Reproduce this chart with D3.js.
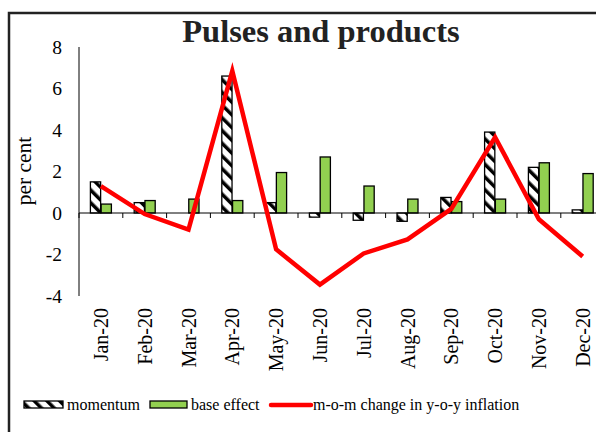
<!DOCTYPE html>
<html>
<head>
<meta charset="utf-8">
<script src="https://cdn.jsdelivr.net/npm/d3@7"></script>
<style>
  body { margin: 0; background: #fff; }
  svg { display: block; font-family: "Liberation Serif", "Times New Roman", serif; }
</style>
</head>
<body>
<script>
// values
var months = ["Jan-20", "Feb-20", "Mar-20", "Apr-20", "May-20", "Jun-20",
              "Jul-20", "Aug-20", "Sep-20", "Oct-20", "Nov-20", "Dec-20"];
var momentum   = [1.5, 0.5, 0.0, 6.6, 0.5, -0.2, -0.35, -0.4, 0.75, 3.9, 2.2, 0.15];
var baseEffect = [0.43, 0.6, 0.67, 0.6, 1.95, 2.7, 1.3, 0.67, 0.55, 0.67, 2.42, 1.9];
var momChange  = [1.3, -0.05, -0.8, 6.85, -1.75, -3.45, -1.95, -1.27, 0.2, 3.65, -0.3, -2.1];
var yTicks = [-4, -2, 0, 2, 4, 6, 8];

var W = 596, H = 432;
var svg = d3.select("body").append("svg")
    .attr("width", W)
    .attr("height", H);

// downward diagonal hatch for momentum
var defs = svg.append("defs");
var pat = defs.append("pattern")
    .attr("id", "hatch")
    .attr("patternUnits", "userSpaceOnUse")
    .attr("width", 9)
    .attr("height", 9)
    .attr("patternTransform", "rotate(-45)");
pat.append("rect").attr("width", 9).attr("height", 9).attr("fill", "#fff");
pat.append("rect").attr("x", 0).attr("width", 3.5).attr("height", 9).attr("fill", "#000");

// outer frame (runs off right and bottom edge)
svg.append("path")
    .attr("d", "M9," + (H + 5) + "V13H" + (W + 5))
    .attr("fill", "none")
    .attr("stroke", "#222")
    .attr("stroke-width", 2.5);

var x0 = 79, bw = 43.8;
var x = d3.scaleBand()
    .domain(months)
    .range([x0, x0 + bw * months.length])
    .padding(0);

var x1 = d3.scaleBand()
    .domain(["m", "b"])
    .range([0, 21])
    .paddingInner(0.05);

var y = d3.scaleLinear()
    .domain([-4, 8])
    .range([296, 47]);

svg.append("text")
    .attr("x", 321)
    .attr("y", 42)
    .attr("text-anchor", "middle")
    .attr("font-size", 32.5)
    .attr("font-weight", "bold")
    .attr("fill", "#222")
    .text("Pulses and products");

// y axis
svg.append("line")
    .attr("x1", x0).attr("x2", x0)
    .attr("y1", y(8)).attr("y2", y(-4))
    .attr("stroke", "#000");

svg.selectAll(".ylab")
    .data(yTicks)
    .enter()
    .append("text")
    .attr("class", "ylab")
    .attr("x", 62)
    .attr("y", function(d) { return y(d); })
    .attr("dy", "0.35em")
    .attr("text-anchor", "end")
    .attr("font-size", 19.5)
    .text(function(d) { return d; });

svg.append("text")
    .attr("transform", "translate(31,171) rotate(-90)")
    .attr("text-anchor", "middle")
    .attr("font-size", 21.5)
    .text("per cent");

var off = (x.bandwidth() - 21) / 2;

svg.selectAll(".mom")
    .data(momentum)
    .enter()
    .append("rect")
    .attr("class", "mom")
    .attr("x", function(d, i) { return x(months[i]) + off + x1("m"); })
    .attr("width", x1.bandwidth())
    .attr("y", function(d) { return y(Math.max(0, d)); })
    .attr("height", function(d) { return Math.abs(y(d) - y(0)); })
    .attr("fill", "url(#hatch)")
    .attr("stroke", "#000")
    .attr("stroke-width", 1.3);

svg.selectAll(".base")
    .data(baseEffect)
    .enter()
    .append("rect")
    .attr("class", "base")
    .attr("x", function(d, i) { return x(months[i]) + off + x1("b"); })
    .attr("width", x1.bandwidth())
    .attr("y", function(d) { return y(Math.max(0, d)); })
    .attr("height", function(d) { return Math.abs(y(d) - y(0)); })
    .attr("fill", "#92d050")
    .attr("stroke", "#000")
    .attr("stroke-width", 1.3);

// x axis with ticks at the band edges
svg.append("line")
    .attr("x1", x0).attr("x2", x0 + bw * months.length)
    .attr("y1", y(0)).attr("y2", y(0))
    .attr("stroke", "#000");

svg.selectAll(".xtick")
    .data(months)
    .enter()
    .append("line")
    .attr("class", "xtick")
    .attr("x1", function(d) { return x(d); })
    .attr("x2", function(d) { return x(d); })
    .attr("y1", y(0))
    .attr("y2", y(0) + 5)
    .attr("stroke", "#000");

var line = d3.line()
    .x(function(d, i) { return x(months[i]) + x.bandwidth() / 2; })
    .y(function(d) { return y(d); });

svg.append("path")
    .datum(momChange)
    .attr("d", line)
    .attr("fill", "none")
    .attr("stroke", "#ff0000")
    .attr("stroke-width", 4.5)
    .attr("stroke-linejoin", "miter");

svg.selectAll(".xlab")
    .data(months)
    .enter()
    .append("text")
    .attr("class", "xlab")
    .attr("transform", function(d) {
        return "translate(" + (x(d) + x.bandwidth() / 2) + ",308) rotate(-90)";
    })
    .attr("dy", "0.35em")
    .attr("text-anchor", "end")
    .attr("font-size", 20)
    .text(function(d) { return d; });

// legend
var lg = svg.append("g").attr("font-size", 16);
lg.append("rect").attr("x", 24).attr("y", 401).attr("width", 39).attr("height", 7)
    .attr("fill", "url(#hatch)").attr("stroke", "#000").attr("stroke-width", 1.3);
lg.append("text").attr("x", 67).attr("y", 410).text("momentum");
lg.append("rect").attr("x", 150).attr("y", 401).attr("width", 37).attr("height", 7)
    .attr("fill", "#92d050").attr("stroke", "#000").attr("stroke-width", 1.3);
lg.append("text").attr("x", 191).attr("y", 410).text("base effect");
lg.append("line").attr("x1", 271).attr("x2", 311).attr("y1", 405).attr("y2", 405)
    .attr("stroke", "#ff0000").attr("stroke-width", 4.5).attr("stroke-linecap", "round");
lg.append("text").attr("x", 313).attr("y", 410).text("m-o-m change in y-o-y inflation");
</script>
</body>
</html>
